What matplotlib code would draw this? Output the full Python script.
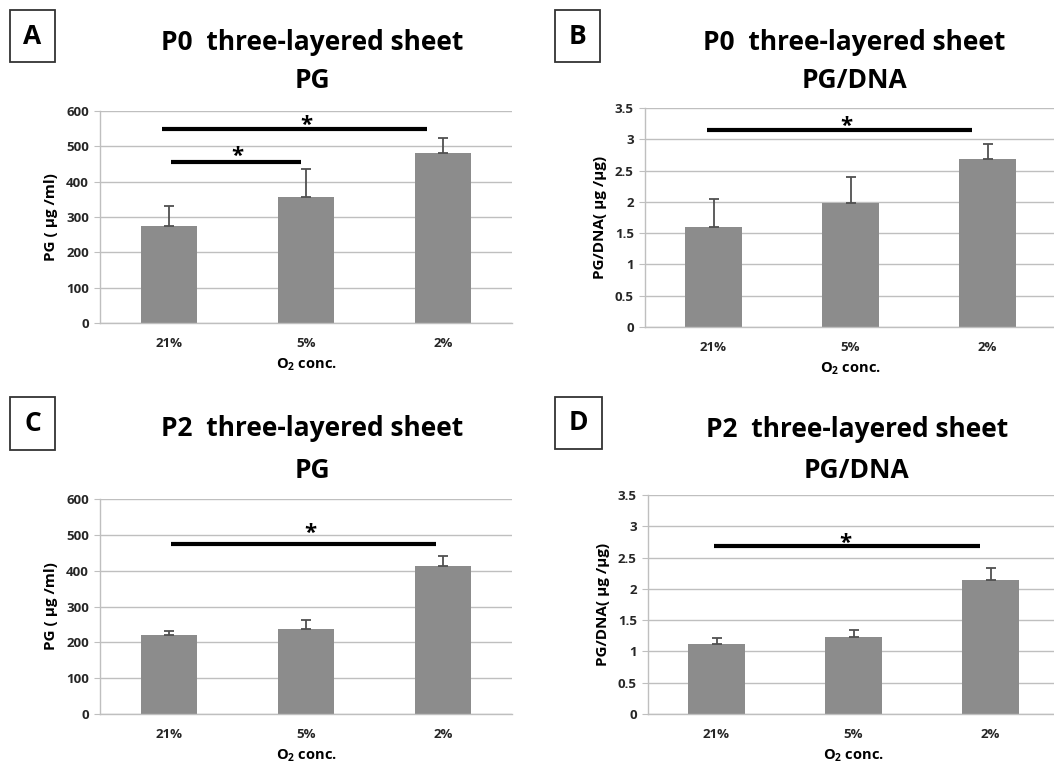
import matplotlib
matplotlib.use("Agg")
import matplotlib.pyplot as plt
from matplotlib.patches import Rectangle
from matplotlib.ticker import FormatStrFormatter

plt.rcParams['font.family'] = ['Open Sans', 'DejaVu Sans']
plt.rcParams['mathtext.default'] = 'regular'

# data
categories = ["21%", "5%", "2%"]

pg_p0 = [275, 358, 482]
pg_p0_err = [55, 77, 41]
pgdna_p0 = [1.60, 1.98, 2.68]
pgdna_p0_err = [0.45, 0.42, 0.25]

pg_p2 = [220, 238, 412]
pg_p2_err = [13, 25, 30]
pgdna_p2 = [1.12, 1.23, 2.14]
pgdna_p2_err = [0.09, 0.12, 0.19]

# significance bars: (x start, x end, y, star x, star y)
sig_a = [(-0.05, 1.88, 549, 1.0, 580), (0.02, 0.96, 456, 0.5, 492)]
sig_b = [(-0.05, 1.89, 3.15, 0.97, 3.31)]
sig_c = [(0.02, 1.95, 475, 1.03, 522)]
sig_d = [(-0.02, 1.92, 2.68, 0.94, 2.84)]

W, H = 1054, 764
fig = plt.figure(figsize=(W / 100, H / 100), dpi=100)
fig.patch.set_facecolor("white")

def px_axes(left, top, width, height):
    return fig.add_axes([left / W, 1 - (top + height) / H, width / W, height / H])

def draw_panel(ax, vals, errs, ymax, ystep, ylabel, sigs, fmt):
    x = range(len(categories))
    ax.bar(x, vals, width=0.41, color="#8c8c8c", zorder=2)
    ax.errorbar(x, vals, yerr=[[0] * len(errs), errs], fmt="none",
                ecolor="#505050", elinewidth=1.3, capsize=3.5, capthick=1.3, zorder=3)
    ax.set_xlim(-0.5, 2.5)
    ax.set_ylim(0, ymax)
    ticks = [i * ystep for i in range(int(round(ymax / ystep)) + 1)]
    ax.set_yticks(ticks)
    ax.yaxis.set_major_formatter(FormatStrFormatter(fmt))
    ax.set_xticks(list(x))
    ax.set_xticklabels(categories)
    ax.grid(axis="y", color="#bfbfbf", lw=1.0, zorder=0)
    ax.set_axisbelow(True)
    for s in ["top", "right"]:
        ax.spines[s].set_visible(False)
    for s in ["left", "bottom"]:
        ax.spines[s].set_color("#bfbfbf")
        ax.spines[s].set_linewidth(1.0)
    ax.tick_params(axis="y", length=4, color="#bfbfbf", labelsize=9.5, pad=4)
    ax.tick_params(axis="x", length=0, labelsize=9.5, pad=10)
    for lab in ax.get_xticklabels() + ax.get_yticklabels():
        lab.set_fontweight("bold")
        lab.set_color("#262626")
    ax.set_ylabel(ylabel, fontsize=11, fontweight="bold", labelpad=6)
    ax.set_xlabel("O$_2$ conc.", fontsize=10.5, fontweight="bold", labelpad=5)
    for x0, x1, y, sx, sy in sigs:
        ax.plot([x0, x1], [y, y], color="black", lw=3.0, solid_capstyle="butt", zorder=4)
        ax.annotate("*", (sx, sy), xytext=(0, -9), textcoords="offset points",
                    ha="center", va="baseline", fontsize=16, fontweight="bold", zorder=5)

def panel_label(letter, x0, y0, x1, y1):
    fig.patches.append(Rectangle((x0 / W, 1 - y1 / H), (x1 - x0) / W, (y1 - y0) / H,
                                 transform=fig.transFigure, fill=False,
                                 edgecolor="#333333", lw=1.3))
    fig.text((x0 + x1) / 2 / W, 1 - (y0 + y1) / 2 / H, letter, ha="center", va="center",
             fontsize=19, fontweight="bold")

def title(line1, line2, cx, y1, y2):
    fig.text(cx / W, 1 - y1 / H, line1, ha="center", va="center", fontsize=19, fontweight="bold")
    fig.text(cx / W, 1 - y2 / H, line2, ha="center", va="center", fontsize=19, fontweight="bold")

ax_a = px_axes(100, 111, 412, 212)
draw_panel(ax_a, pg_p0, pg_p0_err, 600, 100, "PG ( μg /ml)", sig_a, "%g")
ax_b = px_axes(645, 108, 411, 219)
draw_panel(ax_b, pgdna_p0, pgdna_p0_err, 3.5, 0.5, "PG/DNA( μg /μg)", sig_b, "%g")
ax_c = px_axes(100, 499, 412, 215)
draw_panel(ax_c, pg_p2, pg_p2_err, 600, 100, "PG ( μg /ml)", sig_c, "%g")
ax_d = px_axes(648, 495, 411, 219)
draw_panel(ax_d, pgdna_p2, pgdna_p2_err, 3.5, 0.5, "PG/DNA( μg /μg)", sig_d, "%g")

title("P0  three-layered sheet", "PG", 312, 43, 80)
title("P0  three-layered sheet", "PG/DNA", 854, 43, 80)
title("P2  three-layered sheet", "PG", 312, 429, 470)
title("P2  three-layered sheet", "PG/DNA", 857, 430, 470)

panel_label("A", 10, 10, 55, 62)
panel_label("B", 555, 10, 600, 62)
panel_label("C", 10, 397, 55, 450)
panel_label("D", 555, 397, 602, 449)

fig.savefig("out.png", dpi=100, facecolor="white")
